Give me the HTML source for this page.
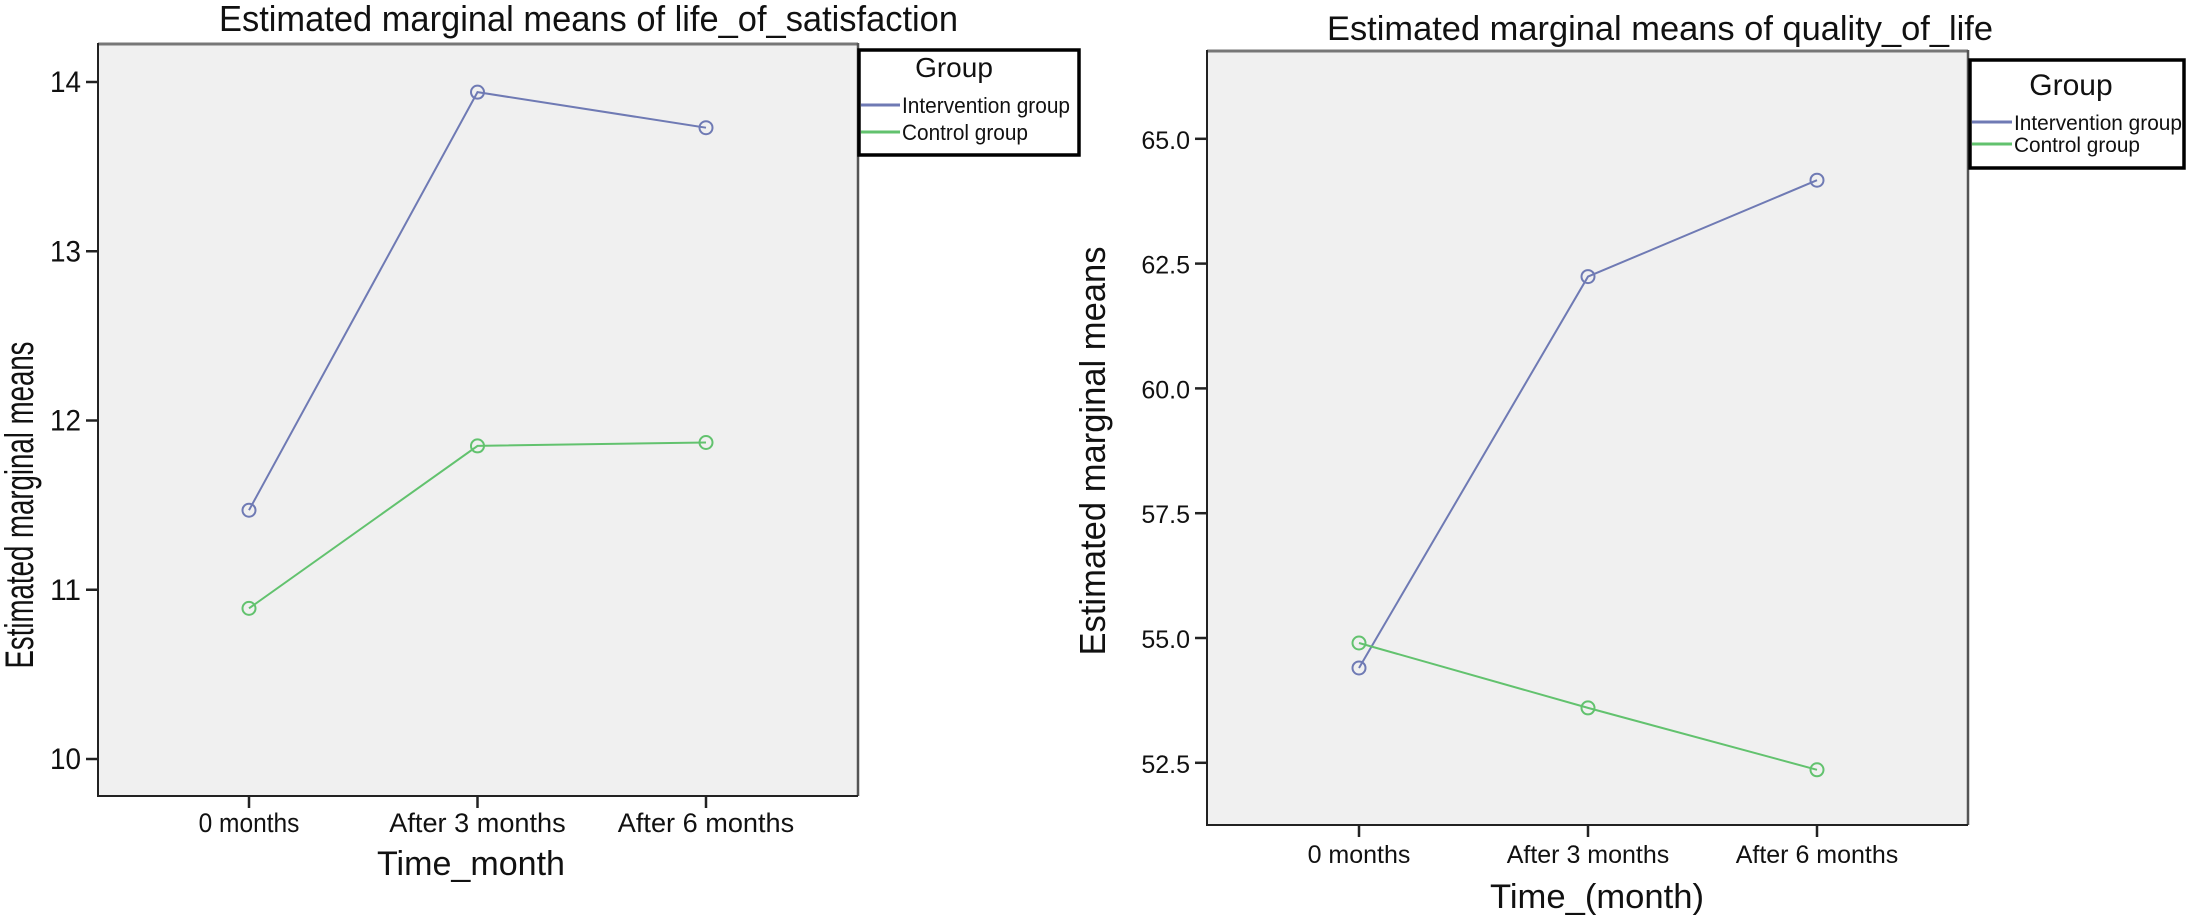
<!DOCTYPE html>
<html><head><meta charset="utf-8"><style>
html,body{margin:0;padding:0;background:#fff;}
svg{display:block;font-family:"Liberation Sans",Arial,sans-serif;}
</style></head><body>
<svg id="fig" width="2186" height="917" viewBox="0 0 2186 917" xmlns="http://www.w3.org/2000/svg"></svg>
<script>
const categories = ["0 months","After 3 months","After 6 months"];
const seriesNames = ["Intervention group","Control group"];
const lifeIntervention = [11.47, 13.94, 13.73];
const lifeControl = [10.89, 11.85, 11.87];
const lifeTicks = [10, 11, 12, 13, 14];
const qolIntervention = [54.4, 62.24, 64.17];
const qolControl = [54.9, 53.6, 52.36];
const qolTicks = [52.5, 55.0, 57.5, 60.0, 62.5, 65.0];
const qolTickLabels = ["52.5","55.0","57.5","60.0","62.5","65.0"];

const NS = "http://www.w3.org/2000/svg";
const svg = document.getElementById("fig");
const COLORS = ["#6f7ab4", "#62c26e"];
function mk(tag, attrs, parent, text){
  const e = document.createElementNS(NS, tag);
  for (const k in attrs) e.setAttribute(k, attrs[k]);
  if (text !== undefined) e.textContent = text;
  (parent || svg).appendChild(e);
  return e;
}

function drawChart(cfg){
  const g = mk("g", {});
  
  
  const {L,R,T,B} = cfg;
  const xs = i => cfg.x0 + i * cfg.dx;
  const ys = v => cfg.yRef + (cfg.vRef - v) * cfg.pxPerUnit;
  const bg = mk("rect", {x:L, y:T, width:R-L, height:B-T, fill:"#f0f0f0"}, g);
  
  
  mk("line", {x1:L, y1:T+1, x2:R, y2:T+1, stroke:"#777", "stroke-width":3}, g);
  mk("line", {x1:R, y1:T, x2:R, y2:B, stroke:"#555", "stroke-width":2.5}, g);
  const yAxis = mk("line", {x1:L, y1:T, x2:L, y2:B+1, stroke:"#222", "stroke-width":2}, g);
  
  
  const xAxis = mk("line", {x1:L-1, y1:B, x2:R, y2:B, stroke:"#222", "stroke-width":2}, g);
  
  
  cfg.ticks.forEach((t, i) => {
    const y = ys(t);
    mk("line", {x1:L-12, y1:y, x2:L, y2:y, stroke:"#222", "stroke-width":2.5}, g);
    const lab = mk("text", {x:L-17, y:y+10, "text-anchor":"end", "font-size":cfg.tickFont, fill:"#111"}, g, cfg.tickLabels[i]);
    if (cfg.condensed) { lab.setAttribute("textLength", cfg.tickLabels[i].length * 15.5); lab.setAttribute("lengthAdjust","spacingAndGlyphs"); }
    
    
  });
  categories.forEach((c, i) => {
    const x = xs(i);
    mk("line", {x1:x, y1:B, x2:x, y2:B+12, stroke:"#222", "stroke-width":2.5}, g);
    const lab = mk("text", {x:x, y:cfg.xLabY, "text-anchor":"middle", "font-size":cfg.xTickFont, fill:"#111"}, g, c);
    if (cfg.condensed) { lab.setAttribute("textLength", c.length * 12.6); lab.setAttribute("lengthAdjust","spacingAndGlyphs"); }
    
    
  });
  [cfg.s1, cfg.s2].forEach((vals, si) => {
    const pts = vals.map((v, i) => xs(i) + "," + ys(v)).join(" ");
    const pl = mk("polyline", {points:pts, fill:"none", stroke:COLORS[si], "stroke-width":2}, g);
    
    
    vals.forEach((v, i) => {
      const c = mk("circle", {cx:xs(i), cy:ys(v), r:6.5, fill:"none", stroke:COLORS[si], "stroke-width":2}, g);
      
      
    });
  });
  const title = mk("text", {x:cfg.titleX, y:cfg.titleY, "font-size":cfg.titleFont, fill:"#111", textLength:cfg.titleLen, lengthAdjust:"spacingAndGlyphs"}, g, cfg.title);
  
  
  const yt = mk("text", {x:0, y:0, "text-anchor":"middle", "font-size":cfg.yTitleFont, fill:"#111", transform:`translate(${cfg.yTitleX},${cfg.yTitleY}) rotate(-90)`, textLength:cfg.yTitleLen, lengthAdjust:"spacingAndGlyphs"}, g, "Estimated marginal means");
  
  
  const xt = mk("text", {x:cfg.xTitleX, y:cfg.xTitleY, "text-anchor":"middle", "font-size":cfg.xTitleFont, fill:"#111", textLength:cfg.xTitleLen, lengthAdjust:"spacingAndGlyphs"}, g, cfg.xTitle);
  
  
  const lg = mk("g", {}, g);
  
  
  const LG = cfg.legend;
  mk("rect", {x:LG.x, y:LG.y, width:LG.w, height:LG.h, fill:"#fff", stroke:"#000", "stroke-width":3.5}, lg);
  const gt = mk("text", {x:LG.gx, y:LG.gy, "text-anchor":"middle", "font-size":LG.gFont, fill:"#111"}, lg, "Group");
  
  
  seriesNames.forEach((n, si) => {
    const ey = LG.ey[si];
    mk("line", {x1:LG.x+2, y1:ey-8, x2:LG.tx-2, y2:ey-8, stroke:COLORS[si], "stroke-width":3}, lg);
    const t = mk("text", {x:LG.tx, y:ey, "font-size":LG.eFont, fill:"#111", textLength:LG.eLen[si], lengthAdjust:"spacingAndGlyphs"}, lg, n);
    
    
  });
}

drawChart({
  name:"life-satisfaction-chart", L:98, R:858, T:43, B:796,
  x0:249, dx:228.5, yRef:759, vRef:10, pxPerUnit:169.25,
  ticks:lifeTicks, tickLabels:lifeTicks.map(String), tickFont:30, condensed:true,
  xTickFont:27, xLabY:832,
  s1:lifeIntervention, s2:lifeControl,
  title:"Estimated marginal means of life_of_satisfaction", titleX:219, titleY:31, titleFont:36, titleLen:739,
  yTitleX:33, yTitleY:505, yTitleFont:40, yTitleLen:327,
  xTitle:"Time_month", xTitleX:471, xTitleY:875, xTitleFont:34, xTitleLen:188,
  legend:{x:859, y:50, w:220, h:105, gx:954, gy:77, gFont:28, tx:902, ey:[113,140], eFont:22, eLen:[168,126]}
});
drawChart({
  name:"quality-of-life-chart", L:1207, R:1968, T:50, B:825,
  x0:1359, dx:229, yRef:638, vRef:55, pxPerUnit:49.92,
  ticks:qolTicks, tickLabels:qolTickLabels, tickFont:25, condensed:false,
  xTickFont:25, xLabY:863,
  s1:qolIntervention, s2:qolControl,
  title:"Estimated marginal means of quality_of_life", titleX:1327, titleY:40, titleFont:34, titleLen:666,
  yTitleX:1105, yTitleY:451, yTitleFont:36, yTitleLen:409,
  xTitle:"Time_(month)", xTitleX:1597, xTitleY:908, xTitleFont:34, xTitleLen:214,
  legend:{x:1970, y:60, w:214, h:108, gx:2071, gy:95, gFont:30, tx:2014, ey:[130,152], eFont:21, eLen:[168,126]}
});
</script>
</body></html>
